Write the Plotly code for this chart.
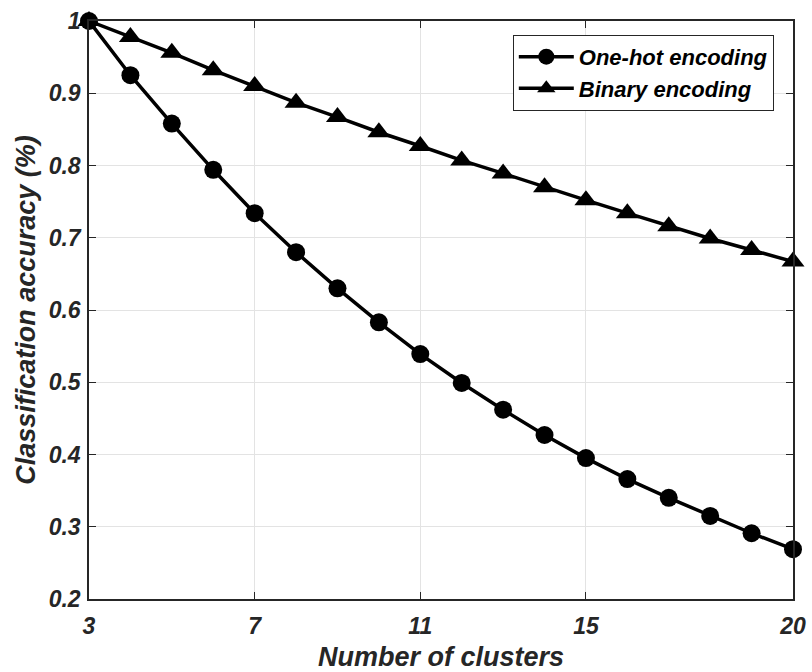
import plotly.graph_objects as go

clusters = list(range(3, 21))
one_hot = [1.0, 0.925, 0.858, 0.794, 0.734, 0.680, 0.630, 0.583, 0.539, 0.499,
           0.462, 0.427, 0.395, 0.366, 0.340, 0.315, 0.291, 0.269]
binary = [1.0, 0.978, 0.956, 0.932, 0.910, 0.887, 0.867, 0.846, 0.827, 0.807,
          0.789, 0.770, 0.752, 0.734, 0.716, 0.699, 0.683, 0.667]

x_ticks = [3, 7, 11, 15, 20]
y_ticks = [0.2, 0.3, 0.4, 0.5, 0.6, 0.7, 0.8, 0.9, 1.0]
y_ticktext = ["0.2", "0.3", "0.4", "0.5", "0.6", "0.7", "0.8", "0.9", "1"]

FONT = "Liberation Sans, Arial, sans-serif"
TXT = "#262626"

fig = go.Figure()
fig.add_trace(go.Scatter(
    x=clusters, y=one_hot, mode="lines+markers", name="One-hot encoding",
    line=dict(color="black", width=3.5),
    marker=dict(symbol="circle", size=18, color="black"),
    cliponaxis=False,
))
fig.add_trace(go.Scatter(
    x=clusters, y=binary, mode="lines+markers", name="Binary encoding",
    line=dict(color="black", width=3.5),
    marker=dict(symbol="triangle-up", size=20, color="black"),
    cliponaxis=False,
))

axis_common = dict(
    showline=True, linecolor=TXT, linewidth=1.5, mirror="ticks",
    ticks="inside", ticklen=7, tickcolor=TXT, tickwidth=1.2,
    showgrid=True, gridcolor="#e3e3e3", gridwidth=1, zeroline=False,
    automargin=False,
    tickfont=dict(family=FONT, size=23, color=TXT, weight="bold", style="italic"),
)

fig.update_xaxes(
    range=[3, 20], tickvals=x_ticks, ticktext=[str(v) for v in x_ticks],
    title=dict(text="Number of clusters", standoff=11,
               font=dict(family=FONT, size=27, color=TXT, weight="bold", style="italic")),
    ticklabelstandoff=6,
    **axis_common,
)
fig.update_yaxes(
    range=[0.2, 1.0], tickvals=y_ticks, ticktext=y_ticktext,
    title=dict(text="Classification accuracy (%)", standoff=5,
               font=dict(family=FONT, size=27, color=TXT, weight="bold", style="italic")),
    ticklabelstandoff=2,
    **axis_common,
)

fig.update_layout(
    width=812, height=672,
    margin=dict(l=89, r=19, t=21, b=73),
    paper_bgcolor="white", plot_bgcolor="white",
    showlegend=True,
    legend=dict(
        x=0.602, y=0.976, xanchor="left", yanchor="top",
        bgcolor="white", bordercolor=TXT, borderwidth=1,
        font=dict(family=FONT, size=22, color="black", weight="bold", style="italic"),
        tracegroupgap=0, itemwidth=55,
    ),
)

fig.write_html("out.html")
